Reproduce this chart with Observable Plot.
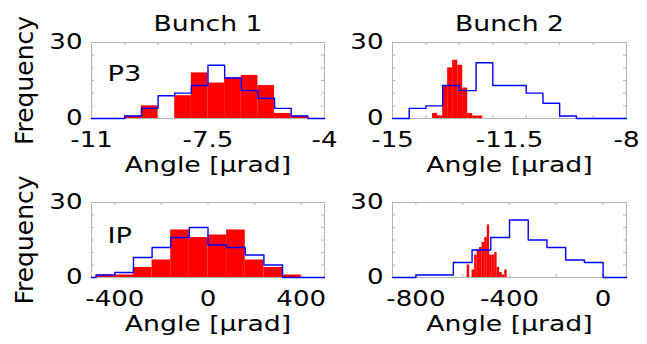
<!DOCTYPE html>
<html>
<head>
<meta charset="utf-8">
<script src="https://cdn.jsdelivr.net/npm/d3@7"></script>
<script src="https://cdn.jsdelivr.net/npm/@observablehq/plot@0.6"></script>
<style>
  body { margin: 0; background: #fff; }
  #chart { position: relative; width: 647px; height: 344px; background: #fff; }
  #chart svg { position: absolute; overflow: visible; }
</style>
</head>
<body>
<div id="chart"></div>
<script>
// ---------- Data ----------
const columnTitles = ["Bunch 1", "Bunch 2"];
const rowTags = ["P3", "IP"];
const yLabels = [0, 30];
const yMinorTicks = [5, 10, 15, 20, 25];

// P3, Bunch 1 (same bins for both series)
const p3b1Edges = [-11, -10.5, -10, -9.5, -9, -8.5, -8, -7.5, -7, -6.5, -6, -5.5, -5, -4.5, -4];
const p3b1Measured = [0, 0, 1, 5, 0, 9, 18, 14, 16, 17, 13, 2, 1, 0];
const p3b1Simulated = [0, 0, 1, 4, 9, 10, 13, 21, 16, 11, 8, 4, 1, 0];
const p3b1XLabels = [-11, -7.5, -4];
const p3b1XTicks = [-10, -9, -8, -7, -6, -5];

// P3, Bunch 2
const p3b2SimEdges = [-15, -14.5, -14, -13.5, -13, -12.5, -12, -11.5, -11, -10.5, -10, -9.5, -9, -8.5, -8];
const p3b2Simulated = [0, 4, 5, 13, 11, 22, 13, 13, 10, 6, 1, 0, 0, 0];
const p3b2MeasEdges = [-13.8, -13.65, -13.5, -13.35, -13.2, -13.05, -12.9, -12.75, -12.6, -12.45, -12.3];
const p3b2Measured = [2, 1, 13, 20, 23, 21, 12, 2, 1, 1];
const p3b2XLabels = [-15, -11.5, -8];
const p3b2XTicks = [-14, -13, -12, -11, -10, -9];

// IP, Bunch 1
const ipb1Edges = [-500, -480, -400, -320, -240, -160, -80, 0, 80, 160, 240, 320, 400, 500];
const ipb1Measured = [0, 1, 1, 4, 7, 19, 16, 17, 19, 7, 4, 1, 0];
const ipb1Simulated = [0, 1, 2, 8, 12, 16, 20, 13, 12, 9, 5, 0, 0];
const ipb1XLabels = [-400, 0, 400];
const ipb1XTicks = [-400, -200, 0, 200, 400];

// IP, Bunch 2
const ipb2SimEdges = [-900, -800, -720, -640, -560, -480, -400, -320, -240, -160, -80, 0, 100];
const ipb2Simulated = [0, 1, 1, 6, 11, 16, 23, 15, 12, 7, 6, 0];
const ipb2MeasEdges = [-581, -570, -560, -549, -538, -528, -517, -506, -495, -485, -474, -463, -453, -442, -431, -420, -410];
const ipb2Measured = [5, 0, 3, 9, 11, 12, 14, 16, 21, 9, 9, 10, 4, 2, 1, 3];
const ipb2XLabels = [-800, -400, 0];
const ipb2XTicks = [-800, -600, -400, -200, 0];

// ---------- Drawing ----------
const GRAY = "#b4b4b4";
const FONT = "DejaVu Sans";
const STRETCH = 1.24; // horizontal glyph stretch of the reference lettering
const chart = document.getElementById("chart");

function panel(o) {
  const [x0, x1] = o.xDomain;
  const innerW = o.width - o.ml - o.mr;
  const innerH = o.height - o.mt - o.mb;
  const tickXLen = 3 * (x1 - x0) / innerW;
  const tickYLen = 3 * 30 / innerH;

  const bars = o.meas.map((c, i) => ({x1: o.measEdges[i], x2: o.measEdges[i + 1], y: c})).filter(d => d.y > 0);
  const simPts = o.simEdges.map((e, i) => ({x: e, y: o.sim[Math.min(i, o.sim.length - 1)]}));

  const marks = [
    Plot.frame({stroke: GRAY}),
    Plot.ruleX(o.xTicks, {x: d => d, y1: 0, y2: tickYLen, stroke: GRAY}),
    Plot.ruleX(o.xTicks, {x: d => d, y1: 30 - tickYLen, y2: 30, stroke: GRAY}),
    Plot.ruleY(yMinorTicks, {y: d => d, x1: x0, x2: x0 + tickXLen, stroke: GRAY}),
    Plot.ruleY(yMinorTicks, {y: d => d, x1: x1 - tickXLen, x2: x1, stroke: GRAY}),
    Plot.rect(bars, {x1: "x1", x2: "x2", y1: 0, y2: "y", fill: "#ff0000"}),
    Plot.line(simPts, {x: "x", y: "y", curve: "step-after", stroke: "#0000ff", strokeWidth: 1.4}),
    Plot.axisX({ticks: o.xLabels, tickFormat: d => String(d), tickSize: 0, tickPadding: 14, fontSize: 21, label: null, fill: "#000"}),
    Plot.axisY({ticks: yLabels, tickFormat: d => String(d), tickSize: 0, tickPadding: 9, fontSize: 21, label: null, fill: "#000"}),
    Plot.text(["Angle [μrad]"], {frameAnchor: "bottom", dy: 53, lineAnchor: "bottom", textAnchor: "middle", fontSize: 21.5, fill: "#000"})
  ];
  if (o.title) marks.push(Plot.text([o.title], {frameAnchor: "top", dy: -12, lineAnchor: "bottom", textAnchor: "middle", fontSize: 21.5, fill: "#000"}));
  if (o.tag) marks.push(Plot.text([o.tag], {frameAnchor: "top-left", dx: 16, dy: o.tagDy, textAnchor: "start", lineAnchor: "bottom", fontSize: 22, fill: "#000"}));
  if (o.ylabel) marks.push(Plot.text(["Frequency"], {frameAnchor: "left", rotate: -90, dx: -59, lineAnchor: "bottom", textAnchor: "middle", fontSize: 25, fill: "#000"}));

  const svg = Plot.plot({
    width: o.width, height: o.height,
    marginLeft: o.ml, marginRight: o.mr, marginTop: o.mt, marginBottom: o.mb,
    x: {domain: o.xDomain},
    y: {domain: [0, 30]},
    style: {fontFamily: FONT, fontSize: "21px", background: "transparent", overflow: "visible", position: "absolute", left: o.left + "px", top: o.top + "px", color: "#000"},
    marks
  });
  chart.appendChild(svg);

  // widen horizontal lettering to match the reference's proportions
  svg.querySelectorAll("text").forEach(t => {
    const tr = t.getAttribute("transform") || "";
    if (tr.includes("rotate")) return;
    const len = t.getComputedTextLength();
    if (len > 0) {
      t.setAttribute("textLength", (len * STRETCH).toFixed(2));
      t.setAttribute("lengthAdjust", "spacingAndGlyphs");
    }
  });
}

panel({left: 0, top: 0, width: 330, height: 172, ml: 91, mr: 6, mt: 42, mb: 54,
  xDomain: [-11, -4], xLabels: p3b1XLabels, xTicks: p3b1XTicks,
  measEdges: p3b1Edges, meas: p3b1Measured, simEdges: p3b1Edges, sim: p3b1Simulated,
  title: columnTitles[0], tag: rowTags[0], tagDy: 38, ylabel: true});

panel({left: 330, top: 0, width: 317, height: 172, ml: 62, mr: 21, mt: 42, mb: 54,
  xDomain: [-15, -8], xLabels: p3b2XLabels, xTicks: p3b2XTicks,
  measEdges: p3b2MeasEdges, meas: p3b2Measured, simEdges: p3b2SimEdges, sim: p3b2Simulated,
  title: columnTitles[1]});

panel({left: 0, top: 172, width: 330, height: 172, ml: 91, mr: 6, mt: 30, mb: 67,
  xDomain: [-500, 500], xLabels: ipb1XLabels, xTicks: ipb1XTicks,
  measEdges: ipb1Edges, meas: ipb1Measured, simEdges: ipb1Edges, sim: ipb1Simulated,
  tag: rowTags[1], tagDy: 40, ylabel: true});

panel({left: 330, top: 172, width: 317, height: 172, ml: 62, mr: 21, mt: 30, mb: 67,
  xDomain: [-900, 100], xLabels: ipb2XLabels, xTicks: ipb2XTicks,
  measEdges: ipb2MeasEdges, meas: ipb2Measured, simEdges: ipb2SimEdges, sim: ipb2Simulated});
</script>
</body>
</html>
